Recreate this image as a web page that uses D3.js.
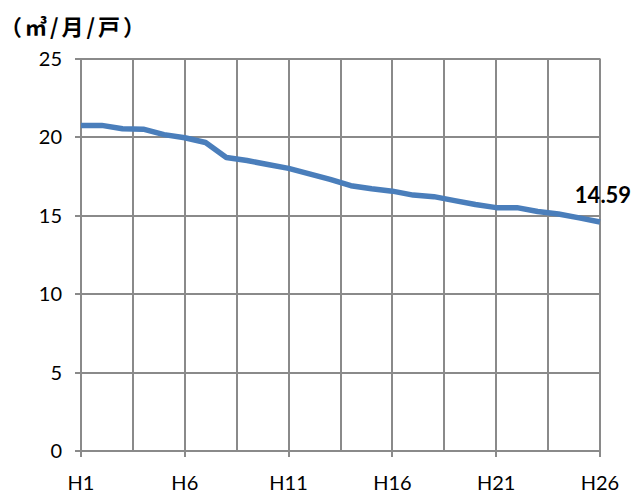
<!DOCTYPE html>
<html><head><meta charset="utf-8">
<script src="https://cdn.jsdelivr.net/npm/d3@7"></script>
<style>body{margin:0;background:#fff}svg{display:block}</style>
</head><body>
<script>
const years = d3.range(1, 27);
const categories = years.map(y => "H" + y);
const values = [20.74, 20.74, 20.52, 20.5, 20.15, 19.95, 19.65, 18.7, 18.5, 18.25, 18.0, 17.65, 17.3, 16.9, 16.7, 16.55, 16.3, 16.2, 15.95, 15.7, 15.5, 15.5, 15.25, 15.1, 14.85, 14.59];
const yTicks = [0, 5, 10, 15, 20, 25];
const xLabelYears = [1, 6, 11, 16, 21, 26];
const gridYears = [1, 3.5, 6, 8.5, 11, 13.5, 16, 18.5, 21, 23.5, 26];
const unitLabel = "（㎥/月/戸）";
const lastLabel = "14.59";

const W = 634, H = 494;
const svg = d3.select("body").append("svg").attr("width", W).attr("height", H);
const x = d3.scaleLinear().domain([1, 26]).range([81, 600]);
const y = d3.scaleLinear().domain([0, 25]).range([451, 58.5]);
const grid = "#8a8a8a";
const font = "Lato, 'Open Sans', sans-serif";

svg.append("g").selectAll("line").data(yTicks).join("line")
  .attr("x1", 75).attr("x2", 600)
  .attr("y1", d => Math.round(y(d))).attr("y2", d => Math.round(y(d)))
  .attr("stroke", grid).attr("stroke-width", 2);
svg.append("g").selectAll("line").data(gridYears).join("line")
  .attr("x1", d => Math.round(x(d))).attr("x2", d => Math.round(x(d)))
  .attr("y1", y(25)).attr("y2", y(0))
  .attr("stroke", grid).attr("stroke-width", 2);
svg.append("g").selectAll("line").data(xLabelYears).join("line")
  .attr("x1", d => Math.round(x(d))).attr("x2", d => Math.round(x(d)))
  .attr("y1", y(0)).attr("y2", y(0) + 6)
  .attr("stroke", grid).attr("stroke-width", 2);

svg.append("g").selectAll("text").data(yTicks).join("text")
  .attr("x", 62).attr("y", d => y(d)).attr("dy", "0.36em")
  .attr("text-anchor", "end").attr("font-family", font).attr("font-size", 20)
  .attr("fill", "#000").text(d => d);
svg.append("g").selectAll("text").data(xLabelYears).join("text")
  .attr("x", d => x(d)).attr("y", 490)
  .attr("text-anchor", "middle").attr("font-family", font).attr("font-size", 20)
  .attr("fill", "#000").text(d => categories[d - 1]);

const line = d3.line().x((d, i) => x(years[i])).y(d => y(d));
svg.append("path").datum(values).attr("d", line)
  .attr("fill", "none").attr("stroke", "#4A7EBB").attr("stroke-width", 5.5)
  .attr("stroke-linejoin", "round");

svg.append("text").attr("x", x(26) + 3).attr("y", y(values[25]) - 19)
  .attr("text-anchor", "middle").attr("font-family", font).attr("font-weight", "bold")
  .attr("font-size", 22).attr("fill", "#000").text(lastLabel);

svg.append("text").attr("x", 0).attr("y", 35)
  .attr("font-family", "'Noto Sans CJK JP', sans-serif").attr("font-weight", "bold")
  .attr("font-size", 22).attr("letter-spacing", 3).attr("fill", "#000").text(unitLabel);
</script>
</body></html>
